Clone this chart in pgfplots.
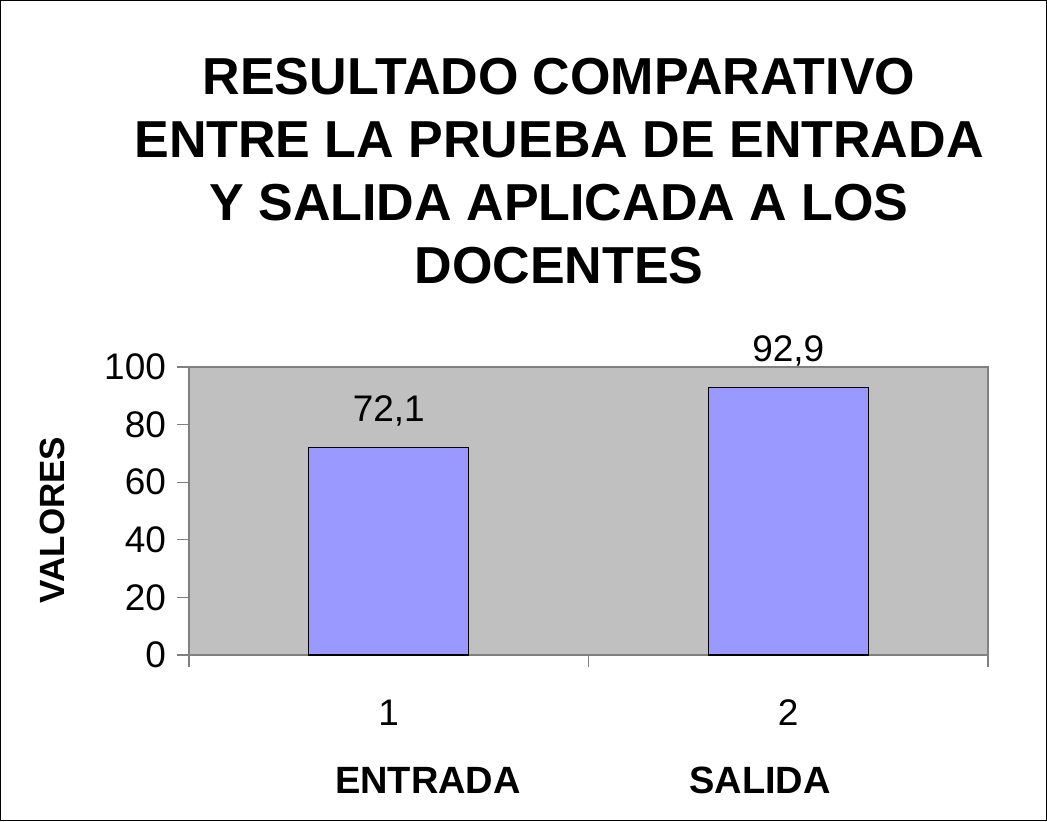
\documentclass[border=0pt]{standalone}
\usepackage{pgfplots}
\pgfplotsset{compat=1.18}
\usepackage{fontspec}
\setmainfont{Liberation Sans}
\definecolor{plotgray}{HTML}{C0C0C0}
\definecolor{barblue}{HTML}{9999FF}
\definecolor{axgray}{HTML}{808080}
\begin{document}
\begin{tikzpicture}
\path[use as bounding box] (0,0) rectangle (523.5pt,410.5pt);
\draw[black, line width=0.6pt] (0.3pt,0.3pt) rectangle (523.2pt,410.2pt);
\node[anchor=north, inner sep=0pt, align=center, font=\fontsize{26}{31.5}\selectfont\bfseries]
  at (279.5pt,381.5pt) {RESULTADO COMPARATIVO\\ENTRE LA PRUEBA DE ENTRADA\\Y SALIDA APLICADA A LOS\\DOCENTES};
\begin{axis}[
  at={(94.5pt,83pt)}, anchor=south west,
  scale only axis, width=399.5pt, height=144pt,
  xmin=0.5, xmax=2.5, ymin=0, ymax=100,
  axis background/.style={fill=plotgray},
  axis line style={axgray, line width=0.6pt},
  every tick/.style={axgray, line width=0.6pt},
  xtick={0.5,1.5,2.5}, xticklabels={},
  extra x ticks={1,2}, extra x tick labels={1,2},
  extra x tick style={major tick length=0pt, xticklabel style={yshift=-19pt}},
  ytick={0,20,40,60,80,100},
  tick align=outside, major tick length=6pt,
  tick pos=left,
  /pgf/number format/assume math mode=true,
  ticklabel style={font=\fontsize{18.5}{20}\selectfont},
  yticklabel style={xshift=-2pt},
  ybar, bar width=0.4,
  nodes near coords,
  nodes near coords style={font=\fontsize{18.5}{20}\selectfont, /pgf/number format/fixed, /pgf/number format/precision=1, /pgf/number format/use comma, /pgf/number format/assume math mode=true, yshift=7pt},
]
\addplot[draw=black, line width=0.6pt, fill=barblue] coordinates {(1,72.1) (2,92.9)};
\end{axis}
\node[rotate=90, font=\fontsize{17.5}{20}\selectfont\bfseries] at (26pt,150.5pt) {VALORES};
\node[font=\fontsize{19}{20}\selectfont\bfseries] at (214pt,20.5pt) {ENTRADA};
\node[font=\fontsize{19}{20}\selectfont\bfseries] at (380pt,20.5pt) {SALIDA};
\end{tikzpicture}
\end{document}
